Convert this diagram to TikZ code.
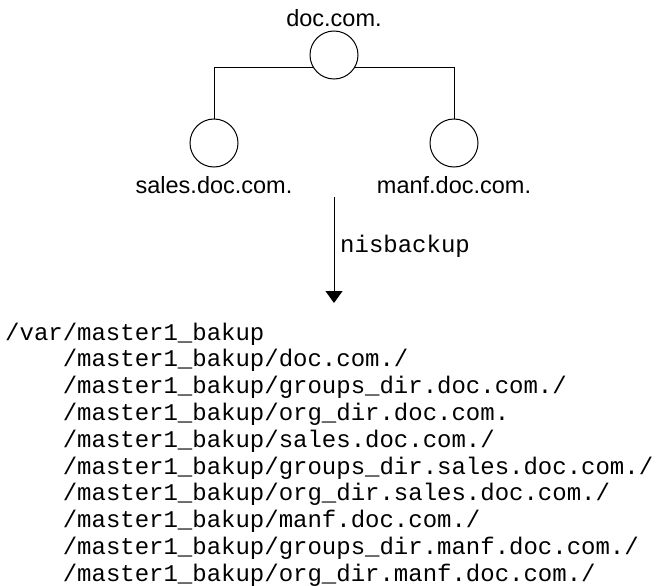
\documentclass[tikz,border=0pt]{standalone}
\usepackage{fontspec}
\setmainfont{Liberation Sans}
\setmonofont{Liberation Mono}
\usetikzlibrary{arrows.meta}
\begin{document}
\begin{tikzpicture}[x=1pt,y=-1pt,
  dom/.style={circle,draw,line width=1pt,minimum size=48pt,inner sep=0pt,fill=white},
  lbl/.style={font=\fontsize{23.5}{26}\selectfont,inner sep=0pt,anchor=base},
  mono/.style={font=\ttfamily\fontsize{24}{26.8}\selectfont,inner sep=0pt,anchor=base west},
  conn/.style={line width=1pt},
]
\useasboundingbox (0,0) rectangle (659,586);
\node[dom] (top) at (334,55) {};
\node[dom] (sales) at (214,143) {};
\node[dom] (manf) at (454,143) {};
\node[lbl] (toplbl) at (334,27) {doc.com.};
\node[lbl] (saleslbl) at (214,193) {sales.doc.com.};
\node[lbl] (manflbl) at (454,193) {manf.doc.com.};
\draw[conn] (top.210) -- (top.210 -| sales.north) -- (sales.north);
\draw[conn] (top.-30) -- (top.-30 -| manf.north) -- (manf.north);
\coordinate (astart) at (334,197);
\coordinate (aend) at (334,303);
\draw[conn,-{Triangle[width=17pt,length=12pt]}] (astart) -- (aend);
\node[mono] (nis) at (340,252) {nisbackup};
\node[mono] (l0) at (5,340) {/var/master1\_bakup};
\foreach \t [count=\i] in {doc.com./,groups\_dir.doc.com./,org\_dir.doc.com.,sales.doc.com./,groups\_dir.sales.doc.com./,org\_dir.sales.doc.com./,manf.doc.com./,groups\_dir.manf.doc.com./,org\_dir.manf.doc.com./}
  \node[mono] (l\i) at (62.6,{340+26.8*\i}) {/master1\_bakup/\t};
\end{tikzpicture}
\end{document}
